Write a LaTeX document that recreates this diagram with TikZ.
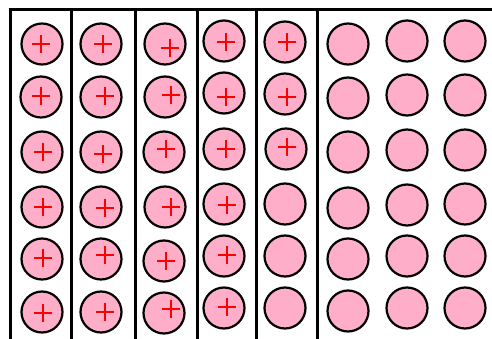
\documentclass[tikz,border=0pt]{standalone}
\usepackage{xcolor}
\usepackage{tikz}
\definecolor{cellpink}{HTML}{FFAEC9}

\begin{document}
\begin{tikzpicture}[
  x=1pt, y=-1pt,
  cell/.style={circle, draw=black, line width=2.2pt, fill=cellpink, minimum size=41pt, inner sep=0pt},
  wall/.style={draw=black, line width=3pt},
  plus/.style={draw=red, line width=2pt}
]
\useasboundingbox (0,0) rectangle (492,339);
% cells
\foreach \x/\y [count=\i] in {42/44, 101/44, 165/44, 224/41, 285/42, 348/44, 407/41, 465/41,
  41/97, 101/97, 165/97, 224/93, 285/94, 348/98, 407/95, 465/95,
  42/152, 101/152, 164/152, 224/149, 286/149, 348/152, 407/150, 465/150,
  42/207, 101/207, 165/207, 224/204, 285/204, 348/208, 407/205, 465/204,
  42/259, 101/259, 164/261, 224/256, 285/256, 348/259, 407/256, 465/256,
  42/312, 101/312, 164/313, 224/308, 285/308, 348/311, 407/308, 465/308}
  \node[cell] (c\i) at (\x,\y) {};
% crosses
\foreach \x/\y in {41/44, 103/44, 170/48, 226/42, 287/42,
  41/96, 105/96, 171/95, 226/97, 287/97,
  43/152, 103/154, 166/149, 226/149, 287/147,
  43/207, 105/208, 171/207, 227/205,
  43/258, 105/255, 166/261, 227/255,
  43/313, 105/312, 171/309, 227/307}
  \draw[plus] (\x,\y) +(-9,0) -- +(9,0) +(0,-9) -- +(0,9);
% walls
\draw[wall] (8.5,9.5) -- (492,9.5);
\foreach \w in {10, 71.5, 135.5, 197.5, 256.5, 317.5}
  \draw[wall] (\w,8) -- (\w,339);
\end{tikzpicture}
\end{document}
